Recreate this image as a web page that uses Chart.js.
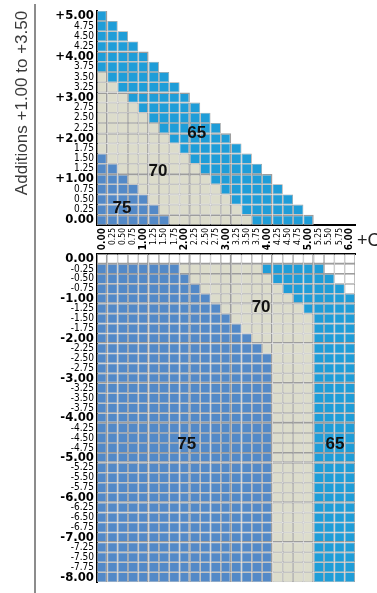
<!DOCTYPE html>
<html><head><meta charset="utf-8">
<script src="https://cdn.jsdelivr.net/npm/chart.js@4.4.1/dist/chart.umd.min.js"></script>
<style>
html,body{margin:0;padding:0;background:#fff;width:377px;height:593px;overflow:hidden;}
#wrap{position:relative;width:377px;height:593px;}
#rule{position:absolute;left:34px;top:4px;width:2px;height:589px;background:#8c8c8c;}
#top{position:absolute;left:0;top:0;}
#bot{position:absolute;left:0;top:240px;}
</style></head><body>
<div id="wrap">
<div id="rule"></div>
<canvas id="top" width="377" height="254"></canvas>
<canvas id="bot" width="377" height="353"></canvas>
</div>
<script>
// ---------- data ----------
const cylValues = [0.00,0.25,0.50,0.75,1.00,1.25,1.50,1.75,2.00,2.25,2.50,2.75,3.00,3.25,3.50,3.75,4.00,4.25,4.50,4.75,5.00,5.25,5.50,5.75,6.00];
const cylLabels = ['0.00','0.25','0.50','0.75','1.00','1.25','1.50','1.75','2.00','2.25','2.50','2.75','3.00','3.25','3.50','3.75','4.00','4.25','4.50','4.75','5.00','5.25','5.50','5.75','6.00'];

const topRowLabels = ['+5.00','4.75','4.50','4.25','+4.00','3.75','3.50','3.25','+3.00','2.75','2.50','2.25','+2.00','1.75','1.50','1.25','+1.00','0.75','0.50','0.25','0.00'];
// cells per row (top to bottom), left to right: zone 75, zone 70, zone 65, out of range
const top75  = [0,0,0,0,0,0,0,0,0,0,0,0,0,0,1,2,3,4,5,6,7];
const top70  = [0,0,0,0,0,0,1,2,3,4,5,6,7,8,8,8,8,8,8,8,8];
const top65  = [1,2,3,4,5,6,6,6,6,6,6,6,6,6,6,6,6,6,6,6,6];
const topOut = [0,0,0,0,0,0,0,0,0,0,0,0,0,0,0,0,0,0,0,0,0];

const botRowLabels = ['0.00','-0.25','-0.50','-0.75','-1.00','-1.25','-1.50','-1.75','-2.00','-2.25','-2.50','-2.75','-3.00','-3.25','-3.50','-3.75','-4.00','-4.25','-4.50','-4.75','-5.00','-5.25','-5.50','-5.75','-6.00','-6.25','-6.50','-6.75','-7.00','-7.25','-7.50','-7.75','-8.00'];
const bot75  = [0,8,9,10,11,12,13,14,15,16,17,17,17,17,17,17,17,17,17,17,17,17,17,17,17,17,17,17,17,17,17,17,17];
const bot70  = [0,8,8,8,8,8,8,7,6,5,4,4,4,4,4,4,4,4,4,4,4,4,4,4,4,4,4,4,4,4,4,4,4];
const bot65  = [0,6,6,6,6,5,4,4,4,4,4,4,4,4,4,4,4,4,4,4,4,4,4,4,4,4,4,4,4,4,4,4,4];
const botOut = [25,3,2,1,0,0,0,0,0,0,0,0,0,0,0,0,0,0,0,0,0,0,0,0,0,0,0,0,0,0,0,0,0];

// zone captions (value on cylinder axis, row index)
const topZoneNames = ['75','70','65'];
const topZoneCyl   = [0.48,1.35,2.29];
const topZoneRow   = [18.9,15.2,11.5];
const botZoneNames = ['70','75','65'];
const botZoneCyl   = [3.85,2.05,5.64];
const botZoneRow   = [4.85,18.6,18.6];

// ---------- styling ----------
const zoneColors = ['#5389c7','#dcdccb','#1f9dd8','#ffffff'];
const gridColor = '#9d9d9d';
const narrow = "'Liberation Sans Narrow','DejaVu Sans Condensed','Arial Narrow','Liberation Sans',sans-serif";
const sans = "'Liberation Sans',Arial,sans-serif";
const isInt = s => Math.abs(parseFloat(s)) % 1 === 0;

function buildDatasets(zones, rowLabels, panel) {
  const n = rowLabels.length;
  const cells = [];
  for (let r = 0; r < n; r++) {
    const row = [];
    zones.forEach((z, zi) => { for (let k = 0; k < z[r]; k++) row.push(zoneColors[zi]); });
    cells.push(row);
  }
  return cylValues.map((cyl, c) => ({
    data: cells.map(row => c < row.length ? [cyl - 0.125, cyl + 0.125] : null),
    backgroundColor: cells.map(row => row[c] || 'rgba(0,0,0,0)'),
    borderColor: gridColor,
    borderWidth: ctx => {
      const r = ctx.dataIndex, col = ctx.datasetIndex;
      const thin = 0.8, thick = 1.5;
      const intRow = isInt(rowLabels[r]);
      return {
        left: thin,
        right: (isInt(cylLabels[col]) && col < cylValues.length - 1) ? thick : thin,
        top: (panel === 'top' && intRow && r > 0) ? thick : thin,
        bottom: (panel === 'bot' && intRow && r < n - 1) ? thick : thin
      };
    },
    borderSkipped: false,
    grouped: false,
    barPercentage: 1,
    categoryPercentage: 1,
    inflateAmount: 0
  }));
}

const zoneTextPlugin = (names, cyls, rows) => ({
  id: 'zoneText',
  afterDraw(chart) {
    const {ctx, scales: {x, y}} = chart;
    ctx.save();
    ctx.font = 'bold 17px ' + sans;
    ctx.fillStyle = '#111';
    ctx.textAlign = 'center';
    ctx.textBaseline = 'middle';
    names.forEach((t, i) => ctx.fillText(t, x.getPixelForValue(cyls[i]), y.getPixelForValue(rows[i])));
    ctx.restore();
  }
});

const extraTextPlugin = {
  id: 'extraText',
  afterDraw(chart) {
    const ctx = chart.ctx;
    ctx.save();
    ctx.fillStyle = '#3a3a3a';
    ctx.font = '17px ' + sans;
    ctx.translate(22, 103);
    ctx.rotate(-Math.PI / 2);
    ctx.textAlign = 'center';
    ctx.textBaseline = 'middle';
    ctx.fillText('Additions +1.00 to +3.50', 0, 0);
    ctx.restore();
    ctx.save();
    ctx.fillStyle = '#222';
    ctx.font = '18px ' + sans;
    ctx.textAlign = 'left';
    ctx.textBaseline = 'middle';
    ctx.fillText('+Cyl', 357, 241);
    ctx.restore();
  }
};

const rowFont = ctx => (ctx.tick && isInt(ctx.tick.label))
  ? {family: narrow, size: 13, weight: 'bold'}
  : {family: narrow, size: 10, weight: 'normal'};
const colFont = ctx => (ctx.tick && isInt(ctx.tick.label))
  ? {family: narrow, size: 10, weight: 'bold'}
  : {family: narrow, size: 8.5, weight: 'normal'};

function makeChart(id, rowLabels, zones, panel, padTop, xHeight, plugins) {
  return new Chart(document.getElementById(id), {
    type: 'bar',
    data: { labels: rowLabels, datasets: buildDatasets(zones, rowLabels, panel) },
    options: {
      indexAxis: 'y',
      responsive: false,
      animation: false,
      events: [],
      layout: { padding: { left: 0, right: 22, top: padTop, bottom: 0 } },
      plugins: { legend: { display: false }, tooltip: { enabled: false }, title: { display: false } },
      scales: {
        x: {
          type: 'linear',
          position: panel === 'top' ? 'bottom' : 'top',
          min: -0.125, max: 6.125,
          z: 1,
          grid: { display: false, drawTicks: false },
          border: { display: true, color: '#000', width: 2 },
          afterBuildTicks: s => { s.ticks = cylValues.map(v => ({ value: v })); },
          afterFit: s => { s.height = xHeight; },
          ticks: {
            display: panel === 'top',
            autoSkip: false,
            minRotation: 90, maxRotation: 90,
            padding: 3,
            color: '#000',
            font: colFont,
            callback: (v, i) => cylLabels[i]
          }
        },
        y: {
          type: 'category',
          position: 'left',
          z: 1,
          offset: true,
          grid: { display: false, drawTicks: false },
          border: { display: true, color: '#000', width: 2 },
          afterFit: s => { s.width = 97; },
          ticks: { autoSkip: false, padding: 3, color: '#000', font: rowFont }
        }
      }
    },
    plugins: plugins
  });
}

makeChart('top', topRowLabels, [top75, top70, top65, topOut], 'top', 8, 29,
  [zoneTextPlugin(topZoneNames, topZoneCyl, topZoneRow), extraTextPlugin]);
makeChart('bot', botRowLabels, [bot75, bot70, bot65, botOut], 'bot', 14, 0,
  [zoneTextPlugin(botZoneNames, botZoneCyl, botZoneRow)]);
</script>
</body></html>
